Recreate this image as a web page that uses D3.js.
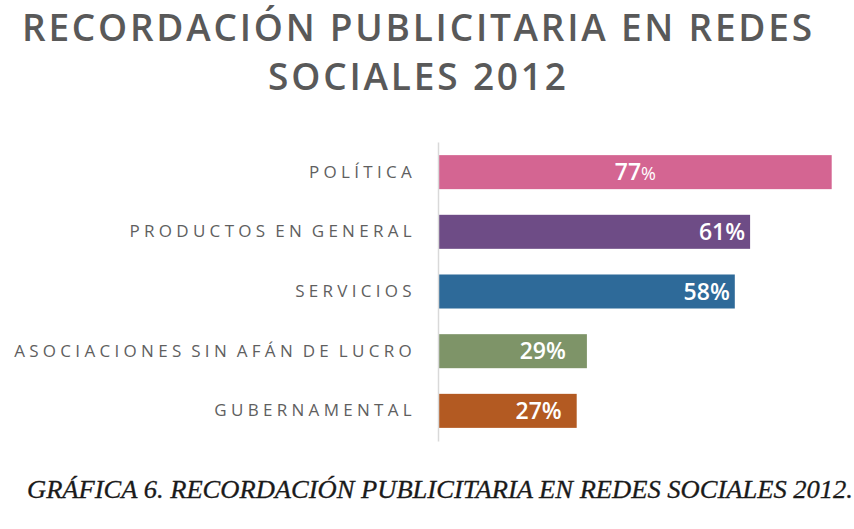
<!DOCTYPE html>
<html>
<head>
<meta charset="utf-8">
<script src="https://cdn.jsdelivr.net/npm/d3@7"></script>
<style>
  html, body { margin: 0; padding: 0; background: #fff; }
  svg { display: block; }
</style>
</head>
<body>
<svg id="chart" width="854" height="529"></svg>
<script>
// Data
const categories = ["POLÍTICA", "PRODUCTOS EN GENERAL", "SERVICIOS", "ASOCIACIONES SIN AFÁN DE LUCRO", "GUBERNAMENTAL"];
const values = [77, 61, 58, 29, 27];
const colors = ["#d46592", "#6e4c86", "#2e6a99", "#7e9468", "#b35a22"];
const titleLines = ["RECORDACIÓN  PUBLICITARIA  EN REDES", "SOCIALES  2012"];
const caption = "GRÁFICA 6. RECORDACIÓN PUBLICITARIA EN REDES SOCIALES 2012.";

const svg = d3.select("#chart");

// Layout
const plot = { left: 439, top: 142, bottom: 441 };
const x = d3.scaleLinear().domain([0, 100]).range([plot.left, plot.left + 510]);
const y = d3.scaleBand().domain(categories).range([plot.top, plot.bottom]).paddingInner(0.43).paddingOuter(0.22);

// Title, spread to its block width
const titleWidths = [790, 298];
svg.append("g").selectAll("text")
  .data(titleLines)
  .join("text")
  .attr("x", 417)
  .attr("y", (d, i) => 41 + i * 49)
  .attr("text-anchor", "middle")
  .attr("font-family", "'Open Sans', 'DejaVu Sans', sans-serif")
  .attr("font-weight", 600)
  .attr("font-size", 37)
  .attr("textLength", (d, i) => titleWidths[i])
  .attr("lengthAdjust", "spacing")
  .attr("fill", "#595959")
  .text(d => d);

// Bars
svg.append("g").selectAll("rect")
  .data(values)
  .join("rect")
  .attr("x", x(0))
  .attr("y", (d, i) => y(categories[i]))
  .attr("width", d => x(d) - x(0))
  .attr("height", y.bandwidth())
  .attr("fill", (d, i) => colors[i]);

// Category axis
const yAxis = d3.axisLeft(y).tickSize(0).tickPadding(22);
const gy = svg.append("g").attr("transform", `translate(${plot.left - 1},0)`).call(yAxis);
gy.select(".domain").attr("stroke", "#d9d9d9").attr("stroke-width", 1.5);
gy.selectAll("text")
  .attr("font-family", "'Open Sans', 'DejaVu Sans', sans-serif")
  .attr("font-size", 17)
  .attr("font-weight", 500)
  .attr("letter-spacing", 4.3)
  .attr("word-spacing", -3)
  .attr("fill", "#5f5f5f");

// Value labels (data labels inside the bars)
const labelShift = { "POLÍTICA": "center", "ASOCIACIONES SIN AFÁN DE LUCRO": 21, "GUBERNAMENTAL": 15 };
const labels = svg.append("g").selectAll("text")
  .data(values)
  .join("text")
  .attr("x", (d, i) => {
    const s = labelShift[categories[i]];
    if (s === "center") return (x(0) + x(d)) / 2;
    return x(d) - (s || 5);
  })
  .attr("y", (d, i) => y(categories[i]) + y.bandwidth() / 2 + 8)
  .attr("text-anchor", (d, i) => labelShift[categories[i]] === "center" ? "middle" : "end")
  .attr("font-family", "'Open Sans', 'DejaVu Sans', sans-serif")
  .attr("font-weight", 600)
  .attr("font-size", 23)
  .attr("fill", "#ffffff");
labels.append("tspan").text(d => d);
labels.append("tspan")
  .attr("font-size", (d, i) => i === 0 ? 18 : 23)
  .attr("font-weight", (d, i) => i === 0 ? 400 : 600)
  .text("%");

// Caption
svg.append("text")
  .attr("x", 27)
  .attr("y", 498)
  .attr("font-family", "'Liberation Serif', 'Times New Roman', serif")
  .attr("font-style", "italic")
  .attr("font-size", 25)
  .attr("textLength", 826)
  .attr("lengthAdjust", "spacingAndGlyphs")
  .attr("fill", "#1a1a1a")
  .attr("stroke", "#1a1a1a")
  .attr("stroke-width", 0.3)
  .text(caption);
</script>
</body>
</html>
